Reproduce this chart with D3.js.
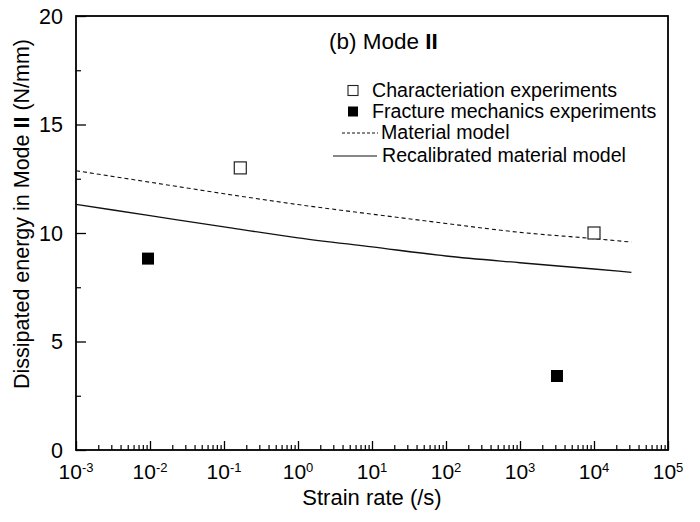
<!DOCTYPE html>
<html>
<head>
<meta charset="utf-8">
<script src="https://cdn.jsdelivr.net/npm/d3@7"></script>
<style>
  html, body { margin: 0; padding: 0; background: #fff; }
  svg { display: block; }
  text { font-family: "Liberation Sans", Arial, Helvetica, sans-serif; fill: #000; }
</style>
</head>
<body>
<svg id="chart" width="700" height="522"></svg>
<script>
// Strain rates (/s) at which the model curves are evaluated
const rates = [1e-3, 1e-2, 1e-1, 1, 10, 100, 1e3, 1e4, 3.2e4];
// Dissipated energy (N/mm) predicted by the material models
const materialModel = [12.87, 12.34, 11.81, 11.31, 10.87, 10.44, 10.03, 9.74, 9.58];
const recalibratedModel = [11.32, 10.80, 10.28, 9.78, 9.36, 8.94, 8.63, 8.34, 8.19];
// Experimental results
const characterisationRates = [0.166, 1e4];
const characterisationEnergy = [13.0, 10.0];
const fractureRates = [0.0094, 3160];
const fractureEnergy = [8.82, 3.41];
// Axis ticks
const xMajorTicks = [1e-3, 1e-2, 1e-1, 1e0, 1e1, 1e2, 1e3, 1e4, 1e5];
const xTickExponents = ["-3", "-2", "-1", "0", "1", "2", "3", "4", "5"];
const yMajorTicks = [0, 5, 10, 15, 20];
const yMinorTicks = [2.5, 7.5, 12.5, 17.5];
const legendLabels = [
  "Characteriation experiments",
  "Fracture mechanics experiments",
  "Material model",
  "Recalibrated material model"
];

const svg = d3.select("#chart");
const plot = { left: 76, right: 668, top: 16, bottom: 450 };

const x = d3.scaleLog().domain([1e-3, 1e5]).range([plot.left, plot.right]);
const y = d3.scaleLinear().domain([0, 20]).range([plot.bottom, plot.top]);

// minor ticks 2..9 inside each decade
const xMinorTicks = [];
for (let d = 0; d < xMajorTicks.length - 1; d++) {
  for (let m = 2; m <= 9; m++) xMinorTicks.push(xMajorTicks[d] * m);
}

// inward ticks
function styleTicks(g, w) {
  g.select(".domain").remove();
  g.selectAll(".tick line").attr("stroke", "#000").attr("stroke-width", w);
  g.selectAll(".tick text").remove();
}
svg.append("g").attr("transform", `translate(0,${plot.bottom})`)
  .call(d3.axisBottom(x).tickValues(xMajorTicks).tickSize(-9).tickFormat(""))
  .call(g => styleTicks(g, 1.3));
svg.append("g").attr("transform", `translate(0,${plot.bottom})`)
  .call(d3.axisBottom(x).tickValues(xMinorTicks).tickSize(-5).tickFormat(""))
  .call(g => styleTicks(g, 1.2));
svg.append("g").attr("transform", `translate(${plot.left},0)`)
  .call(d3.axisLeft(y).tickValues(yMajorTicks).tickSize(-10).tickFormat(""))
  .call(g => styleTicks(g, 1.3));
svg.append("g").attr("transform", `translate(${plot.left},0)`)
  .call(d3.axisLeft(y).tickValues(yMinorTicks).tickSize(-5).tickFormat(""))
  .call(g => styleTicks(g, 1.2));

// frame
svg.append("rect")
  .attr("x", plot.left).attr("y", plot.top)
  .attr("width", plot.right - plot.left).attr("height", plot.bottom - plot.top)
  .attr("fill", "none").attr("stroke", "#000").attr("stroke-width", 1.8);

function label(parent, tx, ty, size, anchor, rotate) {
  return parent.append("text")
    .attr("transform", `translate(${tx},${ty})${rotate ? " rotate(-90)" : ""}`)
    .attr("font-size", size)
    .attr("text-anchor", anchor);
}

// x tick labels: 10^n
xMajorTicks.forEach((v, i) => {
  const t = label(svg, x(v), 479, 21, "middle");
  t.append("tspan").text("10");
  t.append("tspan").attr("dy", -7.5).attr("font-size", 13).text(xTickExponents[i]);
});

// y tick labels
yMajorTicks.forEach(v => {
  label(svg, 63, y(v) + 7.5, 21.5, "end").text(v);
});

// axis titles
label(svg, (plot.left + plot.right) / 2, 505, 22, "middle").text("Strain rate (/s)");
const yt = label(svg, 29, 214, 21.5, "middle", true);
yt.append("tspan").text("Dissipated energy in Mode ");
yt.append("tspan").attr("font-weight", "bold").text("II");
yt.append("tspan").text(" (N/mm)");

// model curves
const line = d3.line()
  .x(d => x(d[0]))
  .y(d => y(d[1]))
  .curve(d3.curveMonotoneX);

svg.append("path")
  .datum(rates.map((r, i) => [r, materialModel[i]]))
  .attr("d", line)
  .attr("fill", "none").attr("stroke", "#111").attr("stroke-width", 1.1)
  .attr("stroke-dasharray", "4,3");

svg.append("path")
  .datum(rates.map((r, i) => [r, recalibratedModel[i]]))
  .attr("d", line)
  .attr("fill", "none").attr("stroke", "#111").attr("stroke-width", 1.3);

// experiment markers
const sq = 12;
svg.selectAll("rect.char")
  .data(characterisationRates.map((r, i) => [r, characterisationEnergy[i]]))
  .join("rect").attr("class", "char")
  .attr("x", d => x(d[0]) - sq / 2).attr("y", d => y(d[1]) - sq / 2)
  .attr("width", sq).attr("height", sq)
  .attr("fill", "#fff").attr("stroke", "#222").attr("stroke-width", 1.2);

svg.selectAll("rect.frac")
  .data(fractureRates.map((r, i) => [r, fractureEnergy[i]]))
  .join("rect").attr("class", "frac")
  .attr("x", d => x(d[0]) - sq / 2).attr("y", d => y(d[1]) - sq / 2)
  .attr("width", sq).attr("height", sq)
  .attr("fill", "#000");

// panel title
const title = label(svg, 329, 49, 22.5, "start");
title.append("tspan").text("(b) Mode ");
title.append("tspan").attr("font-weight", "bold").text("II");

// legend
const legendRows = [97, 118, 139, 162];
const lg = svg.append("g");
const ls = 10;
lg.append("rect").attr("x", 353 - ls / 2).attr("y", legendRows[0] - 6.5 - ls / 2)
  .attr("width", ls).attr("height", ls)
  .attr("fill", "#fff").attr("stroke", "#222").attr("stroke-width", 1.1);
lg.append("rect").attr("x", 353 - ls / 2).attr("y", legendRows[1] - 6.5 - ls / 2)
  .attr("width", ls).attr("height", ls).attr("fill", "#000");
lg.append("line").attr("x1", 342).attr("x2", 378)
  .attr("y1", legendRows[2] - 6).attr("y2", legendRows[2] - 6)
  .attr("stroke", "#111").attr("stroke-width", 1).attr("stroke-dasharray", "3,2");
lg.append("line").attr("x1", 333).attr("x2", 377)
  .attr("y1", legendRows[3] - 6).attr("y2", legendRows[3] - 6)
  .attr("stroke", "#111").attr("stroke-width", 1.2);
const legendX = [372, 372, 381, 382];
legendLabels.forEach((txt, i) => {
  label(lg, legendX[i], legendRows[i], 19.6, "start").text(txt);
});
</script>
</body>
</html>
